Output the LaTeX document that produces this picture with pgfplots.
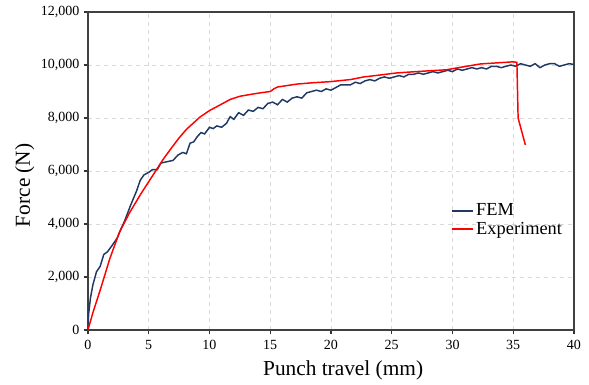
\documentclass[border=0pt]{standalone}
\usepackage{fontspec}
\setmainfont{Liberation Serif}
\usepackage{pgfplots}
\pgfplotsset{compat=1.18}
\definecolor{femblue}{HTML}{203864}
\definecolor{gridgray}{HTML}{D9D9D9}
\begin{document}
\begin{tikzpicture}[x=0.75pt,y=0.75pt]
\begin{axis}[
  scale only axis,
  width=364.5pt, height=238.5pt,
  xmin=0, xmax=40, ymin=0, ymax=12000,
  xtick={0,5,...,40}, ytick={0,2000,...,12000},
  axis line style={draw=black!75, line width=0.9pt},
  tick style={draw=black!80, line width=0.8pt},
  tick align=outside, major tick length=3pt,
  xtick pos=bottom, ytick pos=left,
  grid=major,
  major grid style={gridgray, dashed, line width=0.6pt},
  /pgf/number format/assume math mode=true,
  /pgf/number format/1000 sep={,},
  scaled y ticks=false,
  tick label style={font=\fontsize{10.5}{12}\selectfont},
  xticklabel style={yshift=-1pt},
  xlabel={Punch travel (mm)},
  ylabel={Force (N)},
  xlabel style={font=\fontsize{16}{18}\selectfont, at={(axis description cs:0.525,-0.126)}, anchor=center},
  ylabel style={font=\fontsize{16}{18}\selectfont, at={(axis description cs:-0.13,0.455)}, anchor=center, rotate=0},
  legend style={draw=none, fill=none, at={(axis description cs:0.745,0.41)}, anchor=north west,
    font=\fontsize{13.8}{15}\selectfont, row sep=-1pt, inner sep=1pt},
  legend cell align=left,
  legend image code/.code={\draw[#1, line width=0.9pt] (0pt,0pt) -- (15.5pt,0pt);},
]
\addplot[femblue, line width=1.1pt] coordinates {
(0,0) (0.05,600) (0.2,1200) (0.4,1700) (0.7,2200) (1.0,2400) (1.3,2850) (1.6,2950)
(2.0,3200) (2.4,3470) (2.7,3800) (3.0,4100) (3.5,4700) (4.0,5250) (4.3,5650) (4.6,5850)
(5.0,5950) (5.3,6050) (5.7,6050) (6.0,6300) (6.5,6350) (7.0,6400) (7.4,6600) (7.8,6700)
(8.1,6650) (8.4,7050) (8.7,7100) (9.0,7300) (9.3,7450) (9.6,7400) (10.0,7650) (10.3,7600)
(10.6,7700) (11.0,7650) (11.4,7800) (11.7,8050) (12.0,7950) (12.4,8200) (12.8,8100)
(13.2,8300) (13.6,8250) (14.0,8400) (14.4,8350) (14.8,8550) (15.2,8600) (15.6,8500)
(16.0,8700) (16.4,8600) (16.8,8750) (17.2,8800) (17.6,8750) (18.0,8950) (18.4,9000)
(18.8,9050) (19.2,9000) (19.6,9100) (20.0,9050) (20.4,9150) (20.8,9250) (21.2,9250)
(21.6,9250) (22.0,9350) (22.4,9300) (22.8,9400) (23.2,9450) (23.6,9400) (24.0,9500)
(24.4,9550) (24.8,9500) (25.2,9550) (25.6,9600) (26.0,9550) (26.4,9650) (26.8,9650)
(27.2,9700) (27.6,9650) (28.0,9700) (28.4,9750) (28.8,9700) (29.2,9750) (29.6,9800)
(30.0,9750) (30.4,9850) (30.8,9800) (31.2,9850) (31.6,9900) (32.0,9850) (32.4,9900)
(32.8,9850) (33.2,9950) (33.6,9950) (34.0,9900) (34.4,9950) (34.8,10000) (35.2,9950)
(35.6,10050) (36.0,10000) (36.4,9950) (36.8,10050) (37.2,9900) (37.6,10000) (38.0,10050)
(38.4,10050) (38.8,9950) (39.2,10000) (39.6,10050) (40,10020)
};
\addlegendentry{FEM}
\addplot[red, line width=1.1pt] coordinates {
(0,0) (0.4,650) (1,1500) (1.8,2700) (2.6,3700) (3.45,4450) (4.3,5100) (5.0,5600)
(5.5,5950) (6.2,6450) (7.0,6950) (7.5,7250) (8.1,7570) (9.2,8030) (10,8280) (10.9,8500)
(11.7,8700) (12.5,8820) (13.5,8900) (14.2,8950) (15.0,9000) (15.3,9100) (15.6,9170)
(17.2,9280) (18.5,9330) (19.9,9370) (21.6,9450) (22.7,9550) (24.0,9620) (25.4,9700)
(27,9750) (29.5,9820) (30.5,9900) (32.3,10040) (35.0,10120) (35.3,10100) (35.4,8000)
(36.0,6980)
};
\addlegendentry{Experiment}
\end{axis}
\pgfresetboundingbox
\path (-88,-55) rectangle (501,330);
\end{tikzpicture}
\end{document}
